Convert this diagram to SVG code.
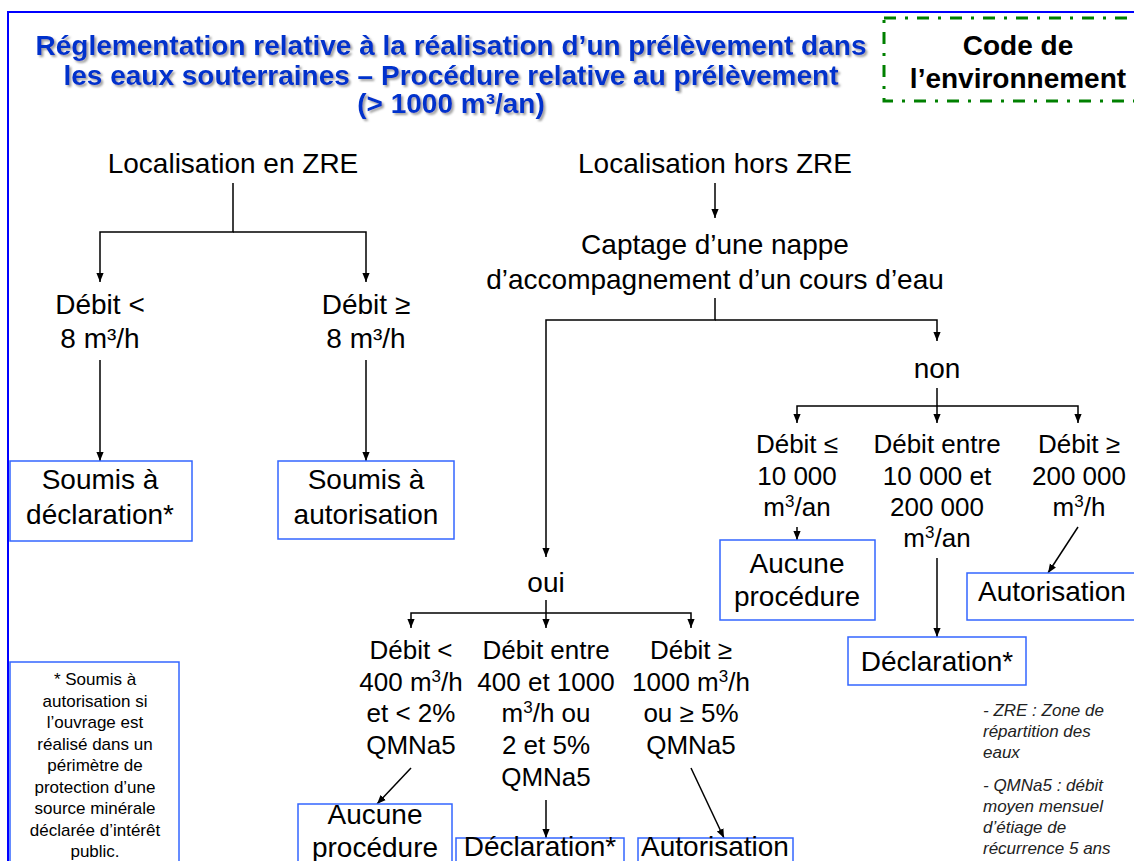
<svg xmlns="http://www.w3.org/2000/svg" width="1134" height="861" viewBox="0 0 1134 861">
<defs>
<style>
.t{font-family:"Liberation Sans",Arial,sans-serif;font-size:28px;fill:#000;text-anchor:middle}
.s{font-size:26px}
.title{font-weight:bold;fill:#0033cc;filter:url(#sh)}
.code{font-weight:bold}
.box{fill:#fff;stroke:#3366ff;stroke-width:1.5}
.c{fill:none;stroke:#000;stroke-width:1.5}
.a{marker-end:url(#ah)}
.note{font-size:17px}
.leg{font-size:17px;font-style:italic;text-anchor:start;fill:#222}
</style>
<filter id="sh" x="-5%" y="-20%" width="110%" height="150%">
<feDropShadow dx="2" dy="2" stdDeviation="1" flood-color="#777" flood-opacity="0.7"/>
</filter>
<marker id="ah" viewBox="0 0 10 10" refX="10" refY="5" markerWidth="9" markerHeight="9" markerUnits="userSpaceOnUse" orient="auto">
<path d="M0,1 L10,5 L0,9 z" fill="#000"/>
</marker>
</defs>
<rect width="1134" height="861" fill="#fff"/>
<rect id="frame" x="8" y="12" width="1140" height="870" fill="none" stroke="#0000ff" stroke-width="2"/>

<g id="title" class="t title">
<text x="451" y="55">Réglementation relative à la réalisation d’un prélèvement dans</text>
<text x="451" y="85">les eaux souterraines – Procédure relative au prélèvement</text>
<text x="451" y="113">(&gt; 1000 m³/an)</text>
</g>

<g id="code-env">
<rect x="884" y="18" width="260" height="83" fill="none" stroke="#008000" stroke-width="3" stroke-dasharray="12 9 3 9"/>
<text class="t code" x="1018" y="55">Code de</text>
<text class="t code" x="1018" y="88">l’environnement</text>
</g>

<g id="connectors">
<path class="c a" d="M233,183 V232 H100 V282"/>
<path class="c a" d="M233,232 H366 V282"/>
<path class="c a" d="M100,360 V461"/>
<path class="c a" d="M366,360 V461"/>
<path class="c a" d="M715,183 V218"/>
<path class="c a" d="M715,298 V320 H546 V557"/>
<path class="c a" d="M715,320 H937 V341"/>
<path class="c a" d="M937,388 V423"/>
<path class="c a" d="M937,406 H797 V423"/>
<path class="c a" d="M937,406 H1078 V423"/>
<path class="c a" d="M797,527 V540"/>
<path class="c a" d="M937,558 V637"/>
<path class="c a" d="M1078,527 L1048,573"/>
<path class="c a" d="M546,600 V628"/>
<path class="c a" d="M546,613 H411 V628"/>
<path class="c a" d="M546,613 H691 V628"/>
<path class="c a" d="M411,768 L377,804"/>
<path class="c a" d="M546,800 V838"/>
<path class="c a" d="M691,768 L724,838"/>
</g>

<g id="zre" class="t"><text x="233" y="173">Localisation en ZRE</text></g>
<g id="zre-lt" class="t"><text x="100" y="314">Débit &lt;</text><text x="100" y="348">8 m³/h</text></g>
<g id="zre-ge" class="t"><text x="366" y="314">Débit ≥</text><text x="366" y="348">8 m³/h</text></g>
<g id="zre-decl"><rect class="box" x="10" y="461" width="182" height="80"/><text class="t" x="100" y="489">Soumis à</text><text class="t" x="100" y="524">déclaration*</text></g>
<g id="zre-auto"><rect class="box" x="278" y="461" width="176" height="78"/><text class="t" x="366" y="489">Soumis à</text><text class="t" x="366" y="524">autorisation</text></g>

<g id="hors-zre" class="t"><text x="715" y="173">Localisation hors ZRE</text></g>
<g id="captage" class="t"><text x="715" y="254">Captage d’une nappe</text><text x="715" y="289">d’accompagnement d’un cours d’eau</text></g>
<g id="non" class="t"><text x="937" y="378">non</text></g>
<g id="non-1" class="t s"><text x="797" y="453">Débit ≤</text><text x="797" y="485">10 000</text><text x="797" y="516">m<tspan dy="-9" font-size="17">3</tspan><tspan dy="9">/an</tspan></text></g>
<g id="non-2" class="t s"><text x="937" y="453">Débit entre</text><text x="937" y="485">10 000 et</text><text x="937" y="516">200 000</text><text x="937" y="547">m<tspan dy="-9" font-size="17">3</tspan><tspan dy="9">/an</tspan></text></g>
<g id="non-3" class="t s"><text x="1079" y="453">Débit ≥</text><text x="1079" y="485">200 000</text><text x="1079" y="516">m<tspan dy="-9" font-size="17">3</tspan><tspan dy="9">/h</tspan></text></g>
<g id="non-aucune"><rect class="box" x="720" y="540" width="155" height="80"/><text class="t" x="797" y="573">Aucune</text><text class="t" x="797" y="606">procédure</text></g>
<g id="non-decl"><rect class="box" x="848" y="637" width="178" height="48"/><text class="t" x="937" y="671">Déclaration*</text></g>
<g id="non-auto"><rect class="box" x="967" y="573" width="180" height="47"/><text class="t" x="1052" y="601">Autorisation</text></g>

<g id="oui" class="t"><text x="546" y="592">oui</text></g>
<g id="oui-1" class="t s"><text x="411" y="659">Débit &lt;</text><text x="411" y="691">400 m<tspan dy="-9" font-size="17">3</tspan><tspan dy="9">/h</tspan></text><text x="411" y="722">et &lt; 2%</text><text x="411" y="754">QMNa5</text></g>
<g id="oui-2" class="t s"><text x="546" y="659">Débit entre</text><text x="546" y="691">400 et 1000</text><text x="546" y="722">m<tspan dy="-9" font-size="17">3</tspan><tspan dy="9">/h ou</tspan></text><text x="546" y="754">2 et 5%</text><text x="546" y="786">QMNa5</text></g>
<g id="oui-3" class="t s"><text x="691" y="659">Débit ≥</text><text x="691" y="691">1000 m<tspan dy="-9" font-size="17">3</tspan><tspan dy="9">/h</tspan></text><text x="691" y="722">ou ≥ 5%</text><text x="691" y="754">QMNa5</text></g>
<g id="oui-aucune"><rect class="box" x="298" y="804" width="154" height="80"/><text class="t" x="375" y="824">Aucune</text><text class="t" x="375" y="857">procédure</text></g>
<g id="oui-decl"><rect class="box" x="456" y="838" width="168" height="40"/><text class="t" x="540" y="856">Déclaration*</text></g>
<g id="oui-auto"><rect class="box" x="638" y="838" width="155" height="40"/><text class="t" x="715" y="856">Autorisation</text></g>

<g id="footnote"><rect class="box" x="10" y="662" width="169" height="220"/>
<g class="t note">
<text x="95" y="685">* Soumis à</text>
<text x="95" y="707">autorisation si</text>
<text x="95" y="728">l’ouvrage est</text>
<text x="95" y="750">réalisé dans un</text>
<text x="95" y="771">périmètre de</text>
<text x="95" y="793">protection d’une</text>
<text x="95" y="814">source minérale</text>
<text x="95" y="836">déclarée d’intérêt</text>
<text x="95" y="857">public.</text>
</g></g>

<g id="legend" class="t leg">
<text x="983" y="716">- ZRE : Zone de</text>
<text x="983" y="737">répartition des</text>
<text x="983" y="758">eaux</text>
<text x="983" y="791">- QMNa5 : débit</text>
<text x="983" y="812">moyen mensuel</text>
<text x="983" y="833">d’étiage de</text>
<text x="983" y="854">récurrence 5 ans</text>
</g>
</svg>
